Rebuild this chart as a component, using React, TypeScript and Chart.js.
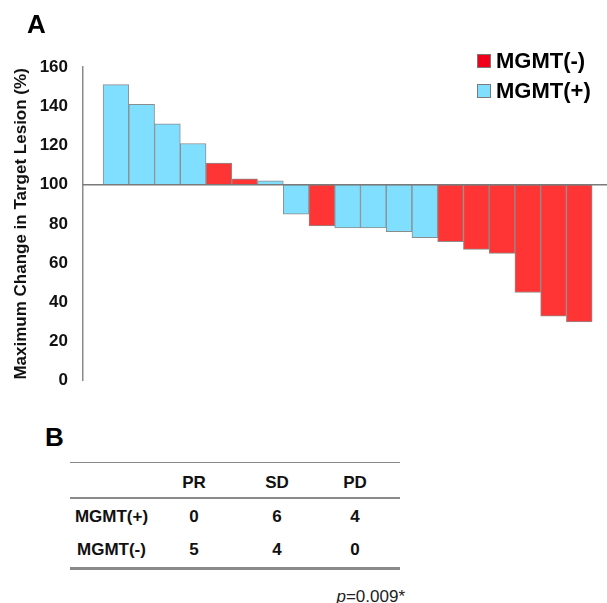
import React, { useEffect, useRef } from "react";
import { Chart, registerables } from "chart.js";

Chart.register(...registerables);

// ---- data ----
const patientIndex = [1, 2, 3, 4, 5, 6, 7, 8, 9, 10, 11, 12, 13, 14, 15, 16, 17, 18, 19];
const maxChange = [151, 141, 131, 121, 111, 103, 102, 85, 79, 78, 78, 76, 73, 71, 67, 65, 45, 33, 30];
const mgmtStatus = ["+", "+", "+", "+", "-", "-", "+", "+", "-", "+", "+", "+", "+", "-", "-", "-", "-", "-", "-"];
const seriesLabels = ["MGMT(-)", "MGMT(+)"];
const seriesKeys = ["-", "+"];
const yTicks = [0, 20, 40, 60, 80, 100, 120, 140, 160];
const baselineValue = 100;

const tableCols = ["PR", "SD", "PD"];
const tableRows = ["MGMT(+)", "MGMT(-)"];
const tableValues = [
  [0, 6, 4],
  [5, 4, 0],
];
const pValueText = "=0.009*";

const FONT = "'Liberation Sans', Arial, Helvetica, sans-serif";
const COLORS = ["#FF3535", "#80DEFF"];
const LEGEND_COLORS = ["#F0001A", "#80DEFF"];

export default function App() {
  const canvasRef = useRef<HTMLCanvasElement | null>(null);

  useEffect(() => {
    const canvas = canvasRef.current;
    if (!canvas) return;

    const datasets = seriesKeys.map((key, si) => ({
      label: seriesLabels[si],
      data: patientIndex
        .map((x, i) => ({ x, y: [baselineValue, maxChange[i]], s: mgmtStatus[i] }))
        .filter((d) => d.s === key)
        .map((d) => ({ x: d.x, y: d.y })),
      backgroundColor: COLORS[si],
      borderColor: "#8c8c8c",
      borderWidth: 1,
      borderSkipped: false,
      barPercentage: 1,
      categoryPercentage: 1,
    }));

    const baselinePlugin = {
      id: "baseline",
      afterDatasetsDraw(chart: any) {
        const { ctx, chartArea, scales } = chart;
        const y = scales.y.getPixelForValue(baselineValue);
        ctx.save();
        ctx.strokeStyle = "#7a7a7a";
        ctx.lineWidth = 1.5;
        ctx.beginPath();
        ctx.moveTo(chartArea.left, y);
        ctx.lineTo(chartArea.right + 2, y);
        ctx.stroke();
        ctx.restore();
      },
    };

    const legendPlugin = {
      id: "cornerLegend",
      afterDraw(chart: any) {
        const { ctx } = chart;
        ctx.save();
        chart.data.datasets.forEach((ds: any, i: number) => {
          const top = 54 + i * 30;
          ctx.fillStyle = LEGEND_COLORS[i];
          ctx.fillRect(477, top, 13, 13);
          ctx.strokeStyle = "#7a7a7a";
          ctx.lineWidth = 1;
          ctx.strokeRect(477.5, top + 0.5, 13, 13);
          ctx.fillStyle = "#000";
          ctx.font = `bold 22px ${FONT}`;
          ctx.textBaseline = "alphabetic";
          ctx.textAlign = "left";
          ctx.fillText(ds.label, 496, top + 14);
        });
        ctx.restore();
      },
    };

    const chart = new Chart(canvas, {
      type: "bar",
      data: { datasets: datasets as any },
      options: {
        responsive: false,
        animation: false,
        layout: { padding: { left: 0, top: 67, right: 2, bottom: 14 } },
        plugins: { legend: { display: false }, tooltip: { enabled: false } },
        scales: {
          x: {
            type: "linear",
            stacked: true,
            offset: false,
            grid: { offset: false, display: false },
            min: -0.28,
            max: 20.0,
            display: false,
          },
          y: {
            stacked: false,
            min: 0,
            max: 160,
            afterFit(scale: any) {
              scale.width = 83;
            },
            afterBuildTicks(scale: any) {
              scale.ticks = yTicks.map((v) => ({ value: v }));
            },
            grid: { display: false, drawTicks: false },
            border: { display: true, color: "#8a8a8a", width: 1.5 },
            ticks: {
              padding: 15,
              color: "#111",
              font: { family: FONT, size: 17, weight: "bold" },
            },
            title: {
              display: true,
              text: "Maximum Change in Target Lesion (%)",
              color: "#111",
              font: { family: FONT, size: 17, weight: "bold" },
              padding: { top: 11, bottom: 0 },
            },
          },
        },
      },
      plugins: [baselinePlugin, legendPlugin],
    });

    return () => chart.destroy();
  }, []);

  const colCenters = [111.5, 194, 277, 355];
  const rowTops = [508.2, 541.2];
  const cellStyle = (center: number, top: number): React.CSSProperties => ({
    position: "absolute",
    left: center - 60,
    width: 120,
    top,
    textAlign: "center",
    font: `bold 17px/17px ${FONT}`,
    color: "#111",
    whiteSpace: "nowrap",
  });
  const lineStyle = (top: number, h: number): React.CSSProperties => ({
    position: "absolute",
    left: 70,
    width: 330,
    top,
    height: h,
    background: "#8a8a8a",
  });

  return (
    <div style={{ position: "fixed", left: 0, top: 0, width: 607, height: 603, background: "#fff", overflow: "hidden" }}>
      <canvas ref={canvasRef} width={607} height={406} style={{ position: "absolute", left: 0, top: 0 }} />
      <div style={{ position: "absolute", left: 27, top: 11, font: `bold 26px/26px ${FONT}`, color: "#000" }}>A</div>
      <div style={{ position: "absolute", left: 45, top: 424, font: `bold 26px/26px ${FONT}`, color: "#000" }}>B</div>

      <div style={lineStyle(462, 1)} />
      <div style={lineStyle(497, 1.5)} />
      <div style={lineStyle(567, 2.5)} />

      {tableCols.map((c, i) => (
        <div key={c} style={cellStyle(colCenters[i + 1], 473.7)}>{c}</div>
      ))}
      {tableRows.map((r, ri) => (
        <React.Fragment key={r}>
          <div style={cellStyle(colCenters[0], rowTops[ri])}>{r}</div>
          {tableValues[ri].map((v, ci) => (
            <div key={ci} style={cellStyle(colCenters[ci + 1], rowTops[ri])}>{v}</div>
          ))}
        </React.Fragment>
      ))}

      <div style={{ position: "absolute", right: 607 - 405, top: 587.6, font: `17px/17px ${FONT}`, color: "#222", whiteSpace: "nowrap" }}>
        <i>p</i>{pValueText}
      </div>
    </div>
  );
}
